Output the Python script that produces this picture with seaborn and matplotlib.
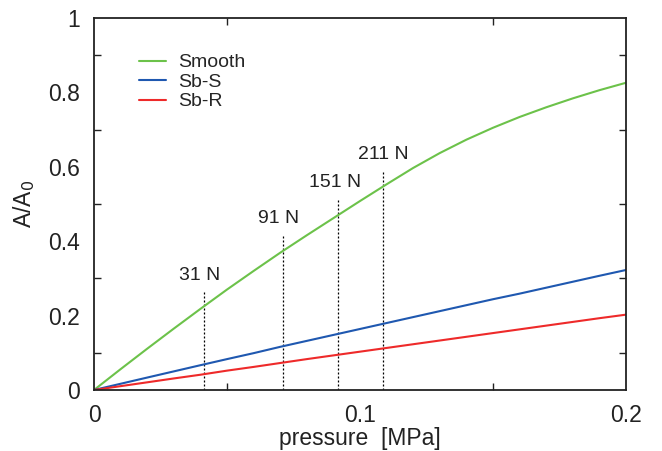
import matplotlib
matplotlib.use("Agg")
import matplotlib.pyplot as plt
import seaborn as sns
import pandas as pd
from matplotlib.ticker import MultipleLocator, FixedLocator

pressure = [0, 0.01, 0.02, 0.03, 0.04, 0.05, 0.06, 0.07, 0.08, 0.09, 0.10,
            0.11, 0.12, 0.13, 0.14, 0.15, 0.16, 0.17, 0.18, 0.19, 0.20]
smooth = [0, 0.056, 0.111, 0.165, 0.218, 0.270, 0.320, 0.369, 0.416, 0.462, 0.508,
          0.553, 0.597, 0.637, 0.673, 0.705, 0.734, 0.760, 0.784, 0.806, 0.826]
sb_s = [0, 0.0167, 0.0334, 0.050, 0.0666, 0.083, 0.099, 0.116, 0.132, 0.148, 0.164,
        0.180, 0.196, 0.212, 0.228, 0.244, 0.259, 0.275, 0.291, 0.307, 0.3226]
sb_r = [0, 0.0103, 0.0206, 0.031, 0.041, 0.052, 0.062, 0.0725, 0.083, 0.093, 0.103,
        0.113, 0.123, 0.133, 0.143, 0.153, 0.163, 0.173, 0.183, 0.193, 0.2025]

series_names = ["Smooth", "Sb-S", "Sb-R"]
series_colors = ["#6cc24a", "#1f58b0", "#ee2a2a"]

load_labels = ["31 N", "91 N", "151 N", "211 N"]
load_x = [0.0415, 0.0712, 0.0919, 0.1088]
load_top = [0.263, 0.419, 0.513, 0.589]
label_x = [0.0398, 0.0693, 0.0906, 0.1086]
label_y = [0.309, 0.461, 0.557, 0.632]

df = pd.DataFrame({
    "pressure": pressure * 3,
    "ratio": smooth + sb_s + sb_r,
    "series": sum([[n] * len(pressure) for n in series_names], []),
})

sns.set_theme(style="ticks")
plt.rcParams["font.family"] = ["Liberation Sans", "DejaVu Sans"]

fig = plt.figure(figsize=(6.62, 4.51), dpi=100)
ax = fig.add_axes([0.142, 0.1353, 0.8036, 0.8247])

sns.lineplot(data=df, x="pressure", y="ratio", hue="series",
             palette=dict(zip(series_names, series_colors)),
             hue_order=series_names, linewidth=1.5, ax=ax, legend=True)

for xv, top in zip(load_x, load_top):
    ax.plot([xv, xv], [0, top], color="black", linestyle=(0, (1.6, 1.6)),
            linewidth=0.9, zorder=1)
for lab, xv, yv in zip(load_labels, label_x, label_y):
    ax.text(xv, yv, lab, ha="center", va="center", fontsize=14, color="#222222")

ax.set_xlim(0, 0.2)
ax.set_ylim(0, 1)
ax.xaxis.set_major_locator(FixedLocator([0, 0.1, 0.2]))
ax.xaxis.set_minor_locator(MultipleLocator(0.05))
ax.yaxis.set_major_locator(FixedLocator([0, 0.2, 0.4, 0.6, 0.8, 1.0]))
ax.yaxis.set_minor_locator(MultipleLocator(0.1))
ax.set_xticklabels(["0", "0.1", "0.2"])
ax.set_yticklabels(["0", "0.2", "0.4", "0.6", "0.8", "1"])
ax.tick_params(which="both", direction="in", top=True, right=True, length=5,
               width=1.0, labelsize=16.5, color="#222222", labelcolor="#222222")
ax.tick_params(axis="x", which="major", length=0, pad=10)
ax.tick_params(axis="y", which="major", length=0, pad=10)
for s in ax.spines.values():
    s.set_linewidth(1.3)
    s.set_color("#222222")

ax.set_xlabel("pressure  [MPa]", fontsize=16.5, color="#222222", labelpad=0)
ax.set_ylabel("A/A$_0$", fontsize=16.5, color="#222222", labelpad=8)

leg = ax.legend(loc="upper left", bbox_to_anchor=(0.07, 0.925), frameon=False,
                fontsize=14, handlelength=1.4, handletextpad=0.6,
                labelspacing=0.1, borderaxespad=0)

fig.savefig("out.png", dpi=100)
